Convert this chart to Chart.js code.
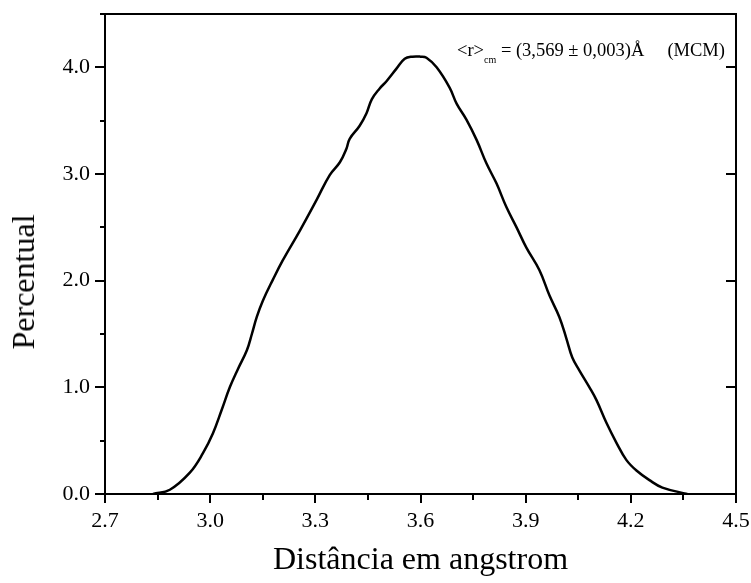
<!DOCTYPE html>
<html>
<head>
<meta charset="utf-8">
<script src="https://cdn.jsdelivr.net/npm/chart.js@4/dist/chart.umd.min.js"></script>
<style>
  body { margin: 0; background: #fff; }
  #wrap { position: relative; width: 751px; height: 583px; }
  #yTitle {
    position: absolute; left: 23px; top: 282px;
    transform: translate(-50%, -50%) rotate(-90deg);
    font: 32px "Liberation Serif", serif; line-height: 1; white-space: nowrap; color: #000;
  }
  #note {
    position: absolute; left: 457px; top: 41px;
    font: 18.5px "Liberation Serif", serif; line-height: 1; white-space: nowrap; color: #000;
  }
  #note .sub { font-size: 10px; vertical-align: -7px; }
</style>
</head>
<body>
<div id="wrap">
  <canvas id="chart" width="751" height="583"></canvas>
  <div id="yTitle">Percentual</div>
  <div id="note">&lt;r&gt;<span class="sub">cm</span> = (3,569 ± 0,003)Å&nbsp;&nbsp;&nbsp;&nbsp;&nbsp;(MCM)</div>
</div>
<script>
// distance (angstrom) and percent
const distances = [2.837, 2.885, 2.942, 2.979, 3.008, 3.033, 3.056, 3.079, 3.105, 3.119,
  3.133, 3.150, 3.179, 3.207, 3.256, 3.304, 3.341, 3.370, 3.389, 3.398,
  3.426, 3.446, 3.461, 3.483, 3.503, 3.532, 3.555, 3.577, 3.600, 3.617,
  3.646, 3.683, 3.703, 3.731, 3.760, 3.788, 3.817, 3.845, 3.874, 3.902,
  3.939, 3.968, 3.996, 4.016, 4.033, 4.053, 4.082, 4.102, 4.130, 4.159,
  4.187, 4.216, 4.253, 4.290, 4.361];
const percentuals = [0, 0.04, 0.20, 0.38, 0.57, 0.79, 1.00, 1.17, 1.35, 1.50,
  1.66, 1.81, 2.01, 2.19, 2.47, 2.76, 2.99, 3.11, 3.24, 3.33,
  3.45, 3.57, 3.70, 3.80, 3.87, 3.99, 4.08, 4.10, 4.10, 4.09,
  4.00, 3.81, 3.66, 3.51, 3.32, 3.10, 2.91, 2.69, 2.50, 2.31,
  2.10, 1.86, 1.66, 1.46, 1.28, 1.16, 1.00, 0.88, 0.67, 0.48,
  0.32, 0.22, 0.13, 0.06, 0];

const xMajorTicks = [2.7, 3.0, 3.3, 3.6, 3.9, 4.2, 4.5];
const xMinorTicks = [2.85, 3.15, 3.45, 3.75, 4.05, 4.35];
const yMajorTicks = [0, 1, 2, 3, 4];
const yMinorTicks = [0.5, 1.5, 2.5, 3.5, 4.5];

const serif = "'Liberation Serif', 'Times New Roman', serif";

// frame + tick marks (outer ticks on left/bottom, inner major ticks on right)
const axisFrame = {
  id: "axisFrame",
  afterDraw(chart) {
    const { ctx, chartArea: a, scales: { x, y } } = chart;
    ctx.save();
    ctx.strokeStyle = "#000";
    ctx.lineWidth = 2;
    ctx.strokeRect(a.left, a.top, a.right - a.left, a.bottom - a.top);
    ctx.beginPath();
    for (let v of xMajorTicks) {
      let px = Math.round(x.getPixelForValue(v));
      ctx.moveTo(px, a.bottom);
      ctx.lineTo(px, a.bottom + 9);
    }
    for (let v of xMinorTicks) {
      let px = Math.round(x.getPixelForValue(v));
      ctx.moveTo(px, a.bottom);
      ctx.lineTo(px, a.bottom + 6);
    }
    for (let v of yMajorTicks) {
      let py = Math.round(y.getPixelForValue(v));
      ctx.moveTo(a.left - 10, py);
      ctx.lineTo(a.left, py);
      if (v > 0) {
        ctx.moveTo(a.right, py);
        ctx.lineTo(a.right - 10, py);
      }
    }
    for (let v of yMinorTicks) {
      let py = Math.round(y.getPixelForValue(v));
      ctx.moveTo(a.left - 5, py);
      ctx.lineTo(a.left, py);
    }
    ctx.stroke();
    ctx.restore();
  },
};

function noPadding(scale) {
  scale.paddingLeft = 0;
  scale.paddingRight = 0;
  scale.paddingTop = 0;
  scale.paddingBottom = 0;
}

const ctx = document.getElementById("chart").getContext("2d");
const chart = new Chart(ctx, {
  type: "line",
  data: {
    datasets: [{
      data: distances.map((d, i) => ({ x: d, y: percentuals[i] })),
      borderColor: "#000",
      borderWidth: 2.5,
      pointRadius: 0,
      fill: false,
      tension: 0.4,
    }],
  },
  options: {
    responsive: false,
    animation: false,
    devicePixelRatio: 1,
    layout: { padding: { top: 14, right: 15, bottom: 0, left: 0 } },
    plugins: { legend: { display: false }, tooltip: { enabled: false } },
    scales: {
      x: {
        type: "linear",
        min: 2.7,
        max: 4.5,
        afterBuildTicks: (scale) => { scale.ticks = xMajorTicks.map((v) => ({ value: v })); },
        afterFit: (scale) => { scale.height = 89; noPadding(scale); },
        grid: { display: false, drawTicks: false },
        border: { display: false },
        ticks: {
          color: "#000",
          padding: 14,
          maxRotation: 0,
          font: { family: serif, size: 22 },
          callback: (v) => Number(v).toFixed(1),
        },
        title: {
          display: true,
          text: "Distância em angstrom",
          color: "#000",
          font: { family: serif, size: 32 },
          padding: { top: 0, bottom: 3 },
        },
      },
      y: {
        min: 0,
        max: 4.5,
        afterBuildTicks: (scale) => { scale.ticks = yMajorTicks.map((v) => ({ value: v })); },
        afterFit: (scale) => { scale.width = 105; noPadding(scale); },
        grid: { display: false, drawTicks: false },
        border: { display: false },
        ticks: {
          color: "#000",
          padding: 15,
          font: { family: serif, size: 22 },
          callback: (v) => Number(v).toFixed(1),
        },
      },
    },
  },
  plugins: [axisFrame],
});
</script>
</body>
</html>
